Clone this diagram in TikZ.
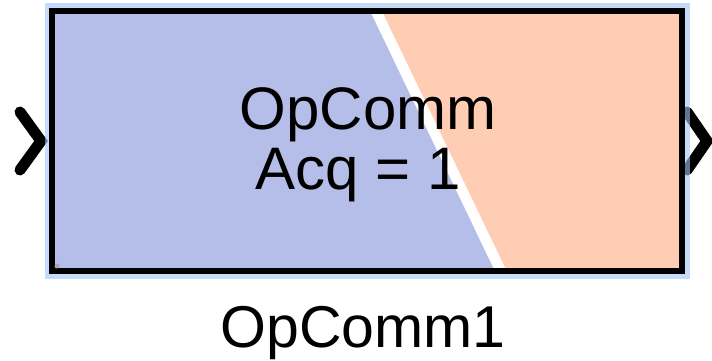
\documentclass[tikz,border=0pt]{standalone}
\usepackage{fontspec}
\setmainfont{Liberation Sans}
\definecolor{selblue}{HTML}{9DC5F3}
\definecolor{inblue}{HTML}{B4BEE8}
\definecolor{outpeach}{HTML}{FFCCB4}
\begin{document}
\begin{tikzpicture}[x=1pt, y=-1pt,
        blk/.style={draw=black, line width=6pt},
        sel/.style={fill=selblue, opacity=0.6},
        chev/.style={draw=black, line width=11pt, line cap=round, line join=miter},
        txt/.style={font=\fontsize{60}{60}\selectfont, anchor=base, inner sep=0pt},
        lbl/.style={font=\fontsize{59}{59}\selectfont, anchor=base, inner sep=0pt}]
      \useasboundingbox (0,0) rectangle (712,360);
      % port chevrons
      \draw[chev] (20,112) -- (41,141) -- (20,170);
      \draw[chev] (687,112) -- (707,141) -- (687,170);
      % selection highlight
      \fill[sel] (45,3) rectangle (690,279);
      % block body
      \coordinate (nw) at (52,11);
      \coordinate (se) at (682,270.5);
      \fill[white] (nw) rectangle (se);
      \fill[inblue] (52,11) -- (370,11) -- (494.5,270.5) -- (52,270.5) -- cycle;
      \fill[outpeach] (382,11) -- (682,11) -- (682,270.5) -- (506.5,270.5) -- cycle;
      \draw[blk] (nw) rectangle (se);
      \fill[black!35] (57,266) circle (2.5);
      % texts
      \node[txt] (name) at (368,129) {OpComm};
      \node[txt] (acq) at (358,189) {Acq = 1};
      \node[lbl] (lab) at (363,347) {OpComm1};
    \end{tikzpicture}
\end{document}
